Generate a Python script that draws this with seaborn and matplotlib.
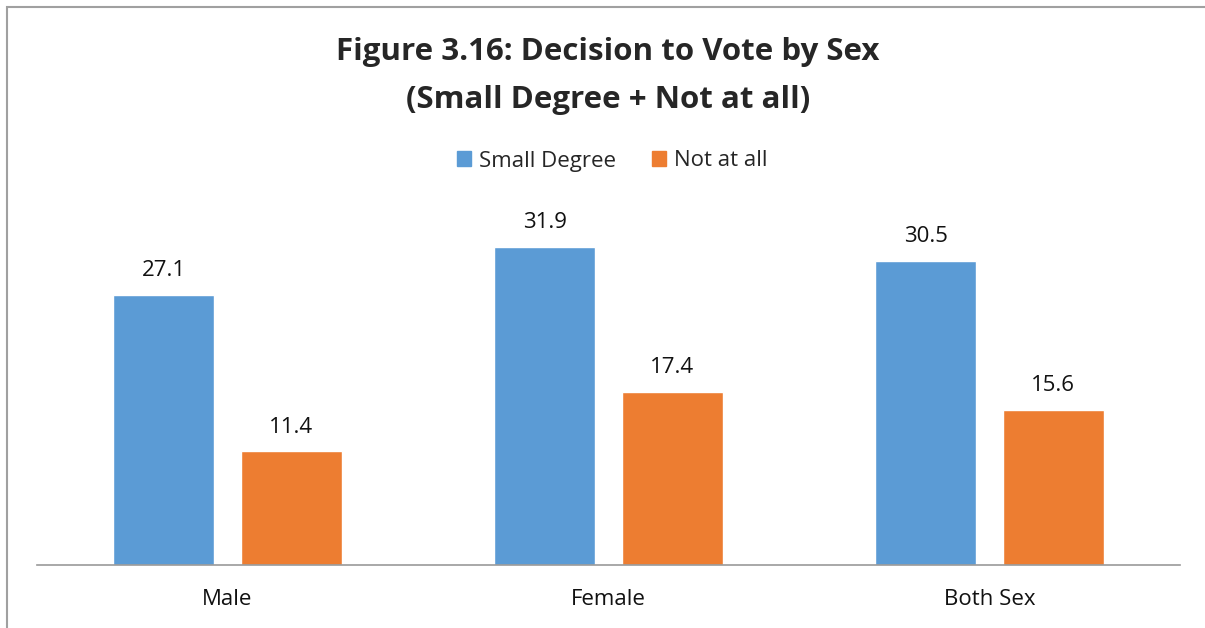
import matplotlib
matplotlib.use("Agg")
import matplotlib.pyplot as plt
import pandas as pd
import seaborn as sns
from matplotlib.patches import Rectangle

categories = ["Male", "Female", "Both Sex"]
small_degree = [27.1, 31.9, 30.5]
not_at_all = [11.4, 17.4, 15.6]
series_names = ["Small Degree", "Not at all"]
colors = ["#5B9BD5", "#ED7D31"]

data = pd.DataFrame({
    "group": categories * 2,
    "value": small_degree + not_at_all,
    "series": [series_names[0]] * 3 + [series_names[1]] * 3,
})

sns.set_style("white")
plt.rcParams["font.family"] = ["Open Sans", "DejaVu Sans"]

fig = plt.figure(figsize=(12.05, 6.28), dpi=100)
ax = fig.add_axes([37 / 1205, 1 - 565 / 628, 1143 / 1205, 348.6 / 628])

sns.barplot(data=data, x="group", y="value", hue="series", palette=colors,
            saturation=1, width=0.667, gap=0.205, ax=ax, legend=False)

for cont in ax.containers:
    ax.bar_label(cont, labels=[f"{v:.1f}" for v in cont.datavalues],
                 padding=10, fontsize=16, color="#111111")

ax.set_ylim(0, 35)
ax.set_xlim(-0.5, 2.5)
ax.set_xlabel("")
ax.set_ylabel("")
ax.set_yticks([])
ax.tick_params(axis="x", length=0, pad=17, labelsize=16, labelcolor="#111111")
for side in ["top", "right", "left"]:
    ax.spines[side].set_visible(False)
ax.spines["bottom"].set_color("#999999")
ax.spines["bottom"].set_linewidth(1.2)

fig.text(608 / 1205, 1 - 52 / 628, "Figure 3.16: Decision to Vote by Sex",
         ha="center", va="center", fontsize=22.5, fontweight="bold")
fig.text(608 / 1205, 1 - 100 / 628, "(Small Degree + Not at all)",
         ha="center", va="center", fontsize=22.5, fontweight="bold")

handles = [Rectangle((0, 0), 1, 1, color=c) for c in colors]
fig.legend(handles, series_names, loc="center", bbox_to_anchor=(612 / 1205, 1 - 161 / 628),
           ncol=2, frameon=False, fontsize=16, handlelength=0.65, handleheight=0.65,
           handletextpad=0.35, columnspacing=1.6)

fig.add_artist(Rectangle((7 / 1205, -0.1), 1.2, 1 - 7 / 628 + 0.1,
                         transform=fig.transFigure, fill=False,
                         edgecolor="#a0a0a0", linewidth=1.5))

fig.savefig("out.png", dpi=100)
